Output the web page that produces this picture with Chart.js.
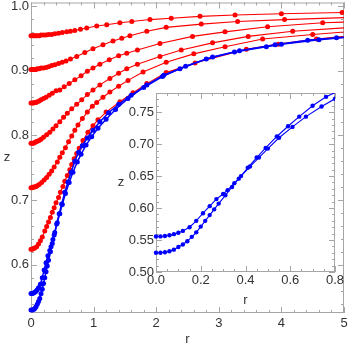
<!DOCTYPE html>
<html>
<head>
<meta charset="utf-8">
<script src="https://cdn.jsdelivr.net/npm/chart.js@4/dist/chart.umd.min.js"></script>
<style>
  html, body { margin: 0; padding: 0; background: #fff; }
  #wrap { position: relative; width: 349px; height: 347px; }
  #main { position: absolute; left: 0; top: 0; }
  #inset { position: absolute; left: 112px; top: 88px; }
</style>
</head>
<body>
<div id="wrap">
  <canvas id="main" width="349" height="347"></canvas>
  <canvas id="inset" width="237" height="222"></canvas>
</div>
<script>
// red curves, top to bottom
const rA = [0, 0.02, 0.04, 0.06, 0.08, 0.10, 0.13, 0.16, 0.20, 0.24, 0.28, 0.33, 0.38, 0.44, 0.50, 0.57, 0.63, 0.70, 0.79, 0.89, 1.05, 1.21, 1.42, 1.61, 1.90, 2.24, 2.70, 3.26, 4.00, 4.97];
const zA = [0.954, 0.954, 0.954, 0.954, 0.954, 0.954, 0.954, 0.955, 0.955, 0.955, 0.956, 0.956, 0.957, 0.958, 0.959, 0.960, 0.961, 0.962, 0.964, 0.966, 0.969, 0.971, 0.974, 0.976, 0.979, 0.981, 0.984, 0.986, 0.988, 0.990];

const rB = [0, 0.02, 0.04, 0.06, 0.08, 0.10, 0.13, 0.16, 0.20, 0.24, 0.28, 0.33, 0.38, 0.44, 0.50, 0.56, 0.63, 0.73, 0.86, 0.99, 1.15, 1.31, 1.45, 1.58, 1.85, 2.16, 2.72, 3.30, 4.05, 5.30];
const zB = [0.902, 0.902, 0.902, 0.902, 0.902, 0.903, 0.903, 0.904, 0.904, 0.905, 0.906, 0.908, 0.909, 0.911, 0.913, 0.915, 0.918, 0.922, 0.928, 0.934, 0.940, 0.946, 0.950, 0.954, 0.961, 0.967, 0.972, 0.976, 0.979, 0.983];

const rC = [0, 0.02, 0.04, 0.06, 0.08, 0.10, 0.13, 0.16, 0.20, 0.24, 0.29, 0.34, 0.40, 0.46, 0.53, 0.61, 0.70, 0.80, 0.90, 0.99, 1.10, 1.25, 1.40, 1.53, 1.70, 2.06, 2.58, 3.10, 3.78, 4.66, 5.30];
const zC = [0.850, 0.850, 0.850, 0.851, 0.851, 0.852, 0.853, 0.855, 0.857, 0.859, 0.862, 0.865, 0.869, 0.870, 0.875, 0.880, 0.886, 0.892, 0.899, 0.904, 0.910, 0.917, 0.923, 0.927, 0.932, 0.942, 0.953, 0.960, 0.968, 0.974, 0.976];

const rD = [0, 0.02, 0.04, 0.06, 0.08, 0.10, 0.13, 0.16, 0.20, 0.25, 0.30, 0.35, 0.40, 0.46, 0.52, 0.58, 0.65, 0.73, 0.81, 0.90, 0.99, 1.10, 1.26, 1.40, 1.53, 1.70, 2.06, 2.40, 2.90, 3.47, 4.18, 5.30];
const zD = [0.788, 0.788, 0.788, 0.789, 0.790, 0.791, 0.792, 0.794, 0.797, 0.801, 0.805, 0.810, 0.815, 0.821, 0.828, 0.834, 0.841, 0.848, 0.855, 0.863, 0.870, 0.878, 0.888, 0.896, 0.903, 0.910, 0.922, 0.932, 0.943, 0.953, 0.961, 0.968];

const rE = [0, 0.02, 0.04, 0.06, 0.08, 0.10, 0.13, 0.17, 0.21, 0.25, 0.29, 0.33, 0.37, 0.42, 0.46, 0.50, 0.55, 0.60, 0.65, 0.70, 0.75, 0.82, 0.90, 0.98, 1.05, 1.15, 1.26, 1.40, 1.55, 1.79, 2.16, 2.60, 3.10, 3.70, 4.50, 5.30];
const zE = [0.719, 0.719, 0.720, 0.720, 0.721, 0.722, 0.724, 0.727, 0.731, 0.735, 0.740, 0.745, 0.751, 0.759, 0.766, 0.773, 0.781, 0.790, 0.799, 0.808, 0.816, 0.826, 0.836, 0.845, 0.851, 0.859, 0.867, 0.876, 0.885, 0.898, 0.913, 0.926, 0.937, 0.949, 0.956, 0.962];

const rF = [0, 0.02, 0.04, 0.06, 0.09, 0.12, 0.15, 0.18, 0.22, 0.25, 0.28, 0.31, 0.34, 0.37, 0.40, 0.44, 0.47, 0.51, 0.54, 0.58, 0.62, 0.65, 0.69, 0.73, 0.77, 0.83, 0.91, 0.99, 1.07, 1.20, 1.42, 1.63, 1.85, 2.16, 2.62, 3.44, 3.95, 4.56, 5.30];
const zF = [0.624, 0.624, 0.625, 0.626, 0.628, 0.632, 0.637, 0.643, 0.652, 0.659, 0.666, 0.673, 0.681, 0.688, 0.696, 0.704, 0.712, 0.721, 0.729, 0.738, 0.747, 0.755, 0.764, 0.772, 0.780, 0.792, 0.805, 0.815, 0.824, 0.836, 0.852, 0.866, 0.880, 0.897, 0.912, 0.933, 0.941, 0.949, 0.956];

// blue curves (also shown in the inset)
const rU = [0, 0.02, 0.04, 0.06, 0.08, 0.10, 0.12, 0.15, 0.18, 0.21, 0.24, 0.27, 0.30, 0.32, 0.35, 0.38, 0.42, 0.46, 0.50, 0.55, 0.61, 0.67, 0.74, 0.80, 0.88, 0.97, 1.07, 1.20, 1.35, 1.55, 1.80, 2.10, 2.47, 2.90, 3.33, 3.90, 4.42, 4.88, 5.30];
const zU = [0.5555, 0.5557, 0.5563, 0.5575, 0.5592, 0.5615, 0.5643, 0.570, 0.580, 0.592, 0.603, 0.614, 0.622, 0.628, 0.639, 0.650, 0.665, 0.679, 0.693, 0.710, 0.727, 0.743, 0.759, 0.771, 0.785, 0.798, 0.811, 0.825, 0.840, 0.857, 0.874, 0.891, 0.907, 0.921, 0.931, 0.940, 0.947, 0.951, 0.954];

const rL = [0, 0.02, 0.04, 0.06, 0.08, 0.10, 0.12, 0.14, 0.16, 0.18, 0.20, 0.22, 0.24, 0.26, 0.28, 0.31, 0.34, 0.37, 0.41, 0.45, 0.49, 0.54, 0.59, 0.64, 0.70, 0.76, 0.82, 0.90, 0.99, 1.10, 1.24, 1.40, 1.60, 1.85, 2.12, 2.38, 2.80, 3.25, 3.76, 4.00, 4.60, 5.30];
const zL = [0.530, 0.5302, 0.5310, 0.5325, 0.535, 0.539, 0.543, 0.548, 0.555, 0.562, 0.571, 0.580, 0.589, 0.598, 0.607, 0.620, 0.633, 0.646, 0.663, 0.679, 0.694, 0.712, 0.728, 0.743, 0.760, 0.774, 0.784, 0.796, 0.808, 0.821, 0.835, 0.848, 0.862, 0.878, 0.893, 0.903, 0.918, 0.929, 0.937, 0.941, 0.948, 0.954];

const xTicks = [0, 1, 2, 3, 4, 5];
const xTickLabels = ['0', '1', '2', '3', '4', '5'];
const yTicks = [0.6, 0.7, 0.8, 0.9, 1.0];
const yTickLabels = ['0.6', '0.7', '0.8', '0.9', '1.0'];

const insetXTicks = [0, 0.2, 0.4, 0.6, 0.8];
const insetXTickLabels = ['0.0', '0.2', '0.4', '0.6', '0.8'];
const insetYTicks = [0.50, 0.55, 0.60, 0.65, 0.70, 0.75];
const insetYTickLabels = ['0.50', '0.55', '0.60', '0.65', '0.70', '0.75'];

const RED = 'rgb(255,0,0)';
const BLUE = 'rgb(0,0,255)';
const FRAME = '#a6a6a6';
const TEXT = '#333';
const FONT = '13px "Liberation Sans", Arial, sans-serif';

function pts(rs, zs) {
  return rs.map((r, i) => ({ x: r, y: zs[i] }));
}

function curve(rs, zs, color, radius, width) {
  return {
    data: pts(rs, zs),
    showLine: true,
    borderColor: color,
    backgroundColor: color,
    borderWidth: width,
    pointRadius: radius,
    pointBorderWidth: 0,
    pointHoverRadius: radius,
    clip: { left: 4, top: 0, right: 0, bottom: 4 }
  };
}

// Mathematica-like frame with inward ticks on all sides
function framePlugin(f) {
  return {
    id: 'frame',
    beforeDatasetsDraw(chart) {
      const { ctx, chartArea: a, scales: { x, y } } = chart;
      ctx.save();
      ctx.strokeStyle = FRAME;
      ctx.lineWidth = 1;
      ctx.strokeRect(a.left + 0.5, a.top + 0.5, a.right - a.left - 1, a.bottom - a.top - 1);
      ctx.beginPath();
      const xTick = (v, len) => {
        const p = Math.round(x.getPixelForValue(v)) + 0.5;
        ctx.moveTo(p, a.bottom); ctx.lineTo(p, a.bottom - len);
        ctx.moveTo(p, a.top); ctx.lineTo(p, a.top + len);
      };
      const yTick = (v, len) => {
        const p = Math.round(y.getPixelForValue(v)) + 0.5;
        ctx.moveTo(a.left, p); ctx.lineTo(a.left + len, p);
        ctx.moveTo(a.right, p); ctx.lineTo(a.right - len, p);
      };
      for (let v = x.min; v <= x.max + 1e-9; v += f.xMinor) xTick(v, 3);
      for (let v = Math.ceil(y.min / f.yMinor) * f.yMinor; v <= y.max + 1e-9; v += f.yMinor) yTick(v, 3);
      f.xTicks.forEach(v => xTick(v, 6));
      f.yTicks.forEach(v => yTick(v, 6));
      ctx.stroke();
      ctx.restore();
    },
    afterDraw(chart) {
      const { ctx, chartArea: a, scales: { x, y } } = chart;
      ctx.save();
      ctx.fillStyle = TEXT;
      ctx.font = FONT;
      ctx.textAlign = 'center';
      ctx.textBaseline = 'middle';
      f.xTicks.forEach((v, i) => ctx.fillText(f.xLabels[i], x.getPixelForValue(v), a.bottom + f.xLabelOffset));
      ctx.textAlign = 'right';
      f.yTicks.forEach((v, i) => {
        const p = Math.max(y.getPixelForValue(v), 6);
        ctx.fillText(f.yLabels[i], a.left - 2, p);
      });
      ctx.textAlign = 'center';
      ctx.fillText('r', (a.left + a.right) / 2, f.rY);
      ctx.fillText('z', f.zX, (a.top + a.bottom) / 2);
      ctx.restore();
    }
  };
}

const baseOptions = {
  responsive: false,
  animation: false,
  events: [],
  plugins: { legend: { display: false }, tooltip: { enabled: false } }
};

new Chart(document.getElementById('main'), {
  type: 'scatter',
  data: {
    datasets: [
      curve(rU, zU, BLUE, 2.5, 1.5),
      curve(rL, zL, BLUE, 2.5, 1.5),
      curve(rA, zA, RED, 2.5, 1.1),
      curve(rB, zB, RED, 2.5, 1.1),
      curve(rC, zC, RED, 2.5, 1.1),
      curve(rD, zD, RED, 2.5, 1.1),
      curve(rE, zE, RED, 2.5, 1.1),
      curve(rF, zF, RED, 2.5, 1.1)
    ]
  },
  options: {
    ...baseOptions,
    layout: { padding: { left: 31, right: 5, top: 1, bottom: 34 } },
    scales: {
      x: { type: 'linear', display: false, min: 0, max: 5 },
      y: { type: 'linear', display: false, min: 0.5254, max: 1.0054 }
    }
  },
  plugins: [framePlugin({
    xTicks: xTicks, xLabels: xTickLabels, yTicks: yTicks, yLabels: yTickLabels,
    xMinor: 0.2, yMinor: 0.02, xLabelOffset: 10, rY: 339, zX: 7
  })]
});

new Chart(document.getElementById('inset'), {
  type: 'scatter',
  data: {
    datasets: [
      curve(rU, zU, BLUE, 2.2, 1.1),
      curve(rL, zL, BLUE, 2.2, 1.1)
    ]
  },
  options: {
    ...baseOptions,
    layout: { padding: { left: 44, right: 14, top: 5, bottom: 38 } },
    scales: {
      x: { type: 'linear', display: false, min: 0, max: 0.8 },
      y: { type: 'linear', display: false, min: 0.5, max: 0.78 }
    }
  },
  plugins: [framePlugin({
    xTicks: insetXTicks, xLabels: insetXTickLabels, yTicks: insetYTicks, yLabels: insetYTickLabels,
    xMinor: 0.05, yMinor: 0.01, xLabelOffset: 8, rY: 212, zX: 9
  })]
});
</script>
</body>
</html>
